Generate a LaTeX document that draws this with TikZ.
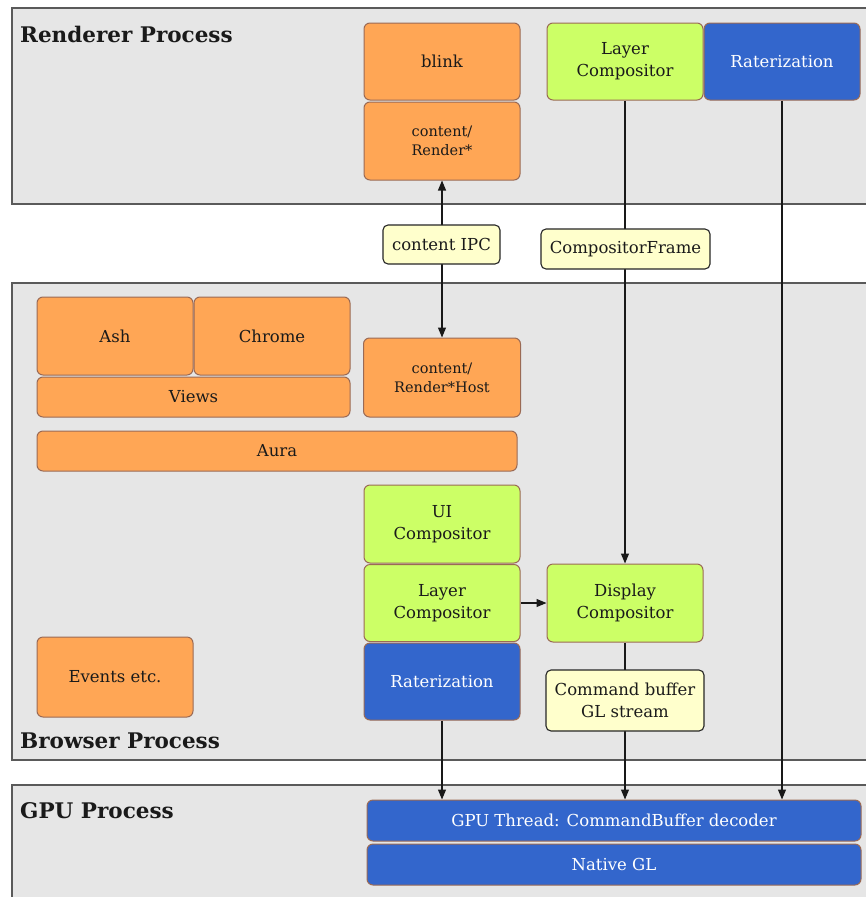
\documentclass[tikz,border=0pt]{standalone}
\usepackage{fontspec}
\setmainfont{DejaVu Serif}
\usetikzlibrary{arrows.meta,backgrounds}
\definecolor{procfill}{HTML}{E6E6E6}
\definecolor{procline}{HTML}{5A5A5A}
\definecolor{orangefill}{HTML}{FFA655}
\definecolor{greenfill}{HTML}{CCFF66}
\definecolor{bluefill}{HTML}{3366CC}
\definecolor{yellowfill}{HTML}{FFFFCC}
\definecolor{boxline}{HTML}{9A6A55}
\definecolor{txt}{HTML}{1A1A1A}
\tikzset{
  proc/.style={fill=procfill, draw=procline, line width=1.5pt},
  cbox/.style={draw=boxline, line width=1pt, rounded corners=6pt, inner sep=0pt,
    align=center, text=txt, font=\fontsize{16.5}{22}\selectfont},
  smalltext/.style={font=\fontsize{14.5}{19}\selectfont},
  obox/.style={cbox, fill=orangefill},
  gbox/.style={cbox, fill=greenfill},
  bbox/.style={cbox, fill=bluefill, text=white},
  lbox/.style={draw=black!85, fill=yellowfill, line width=1.1pt, rounded corners=5pt,
    inner sep=0pt, align=center, text=txt, font=\fontsize{16.5}{22}\selectfont},
  ptitle/.style={anchor=base west, inner sep=0pt, text=txt, font=\fontsize{21.5}{24}\selectfont\bfseries},
  conn/.style={draw=black!90, line width=1.1pt},
  arr/.style={conn, -{Triangle[length=10pt,width=8pt]}},
  darr/.style={conn, {Triangle[length=10pt,width=8pt]}-{Triangle[length=10pt,width=8pt]}},
}
\begin{document}
\begin{tikzpicture}[x=1pt,y=-1pt]
\useasboundingbox (0,0) rectangle (865,897);
\begin{scope}[on background layer]
\fill[white] (0,0) rectangle (865,897);
\draw[proc] (12,8) rectangle (870,204);
\draw[proc] (12,283) rectangle (870,760);
\draw[proc] (12,785) rectangle (870,905);
\end{scope}

\node[ptitle] (rtitle) at (20,42) {Renderer Process};
\node[ptitle] (btitle) at (20,748) {Browser Process};
\node[ptitle] (gtitle) at (20,818) {GPU Process};

% Renderer
\node[obox, minimum width=156pt, minimum height=77pt] (blink) at (442,61.5) {blink};
\node[obox, smalltext, minimum width=156pt, minimum height=78pt] (render) at (442,141) {content/\\Render*};
\node[gbox, minimum width=156pt, minimum height=77pt] (lcR) at (625,61.5) {Layer\\Compositor};
\node[bbox, minimum width=156pt, minimum height=77pt] (rastR) at (782,61.5) {Raterization};

% Labels
\node[lbox, minimum width=117pt, minimum height=39pt] (ipc) at (441.5,244.5) {content IPC};
\node[lbox, minimum width=169pt, minimum height=40pt] (cframe) at (625.5,249) {CompositorFrame};

% Browser
\node[obox, smalltext, minimum width=157pt, minimum height=79pt] (host) at (442,377.5) {content/\\Render*Host};
\node[obox, minimum width=156pt, minimum height=78pt] (ash) at (115,336) {Ash};
\node[obox, minimum width=156pt, minimum height=78pt] (chrome) at (272,336) {Chrome};
\node[obox, minimum width=313pt, minimum height=40pt] (views) at (193.5,397) {Views};
\node[obox, minimum width=480pt, minimum height=40pt] (aura) at (277,451) {Aura};
\node[gbox, minimum width=156pt, minimum height=78pt] (ui) at (442,524) {UI\\Compositor};
\node[gbox, minimum width=156pt, minimum height=77pt] (lcB) at (442,603) {Layer\\Compositor};
\node[bbox, minimum width=156pt, minimum height=77pt] (rastB) at (442,681.5) {Raterization};
\node[gbox, minimum width=156pt, minimum height=78pt] (display) at (625,603) {Display\\Compositor};
\node[lbox, minimum width=158pt, minimum height=61pt] (cmd) at (625,700.5) {Command buffer\\GL stream};
\node[obox, minimum width=156pt, minimum height=80pt] (events) at (115,677) {Events etc.};

% GPU
\node[bbox, minimum width=494pt, minimum height=41pt] (gputhread) at (614,820.5) {GPU Thread: CommandBuffer decoder};
\node[bbox, minimum width=494pt, minimum height=41pt] (nativegl) at (614,864.5) {Native GL};

\begin{scope}[on background layer]
\draw[darr] (render.south) -- (host.north);
\draw[arr] (lcR.south) -- (display.north);
\draw[arr] (rastR.south) -- (rastR.south |- gputhread.north);
\draw[arr] (rastB.south) -- (rastB.south |- gputhread.north);
\draw[arr] (display.south) -- (display.south |- gputhread.north);
\draw[arr] (lcB.east) -- (display.west);
\end{scope}
\end{tikzpicture}
\end{document}
